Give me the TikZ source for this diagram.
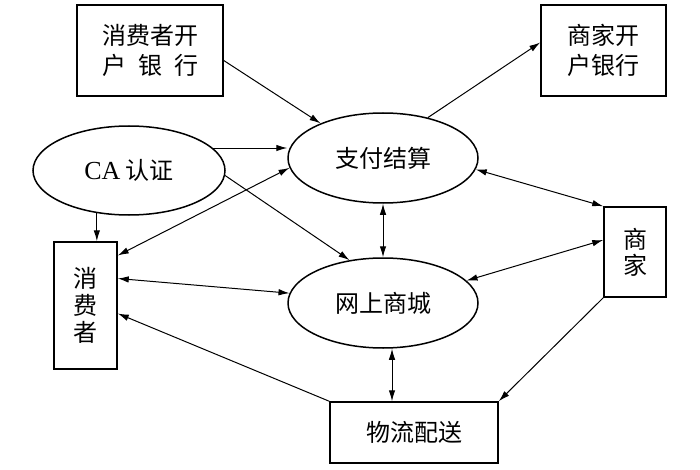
\documentclass[tikz,border=0pt]{standalone}
\usepackage{fontspec}
\setmainfont{Liberation Serif}
\newfontfamily\cjk{Noto Sans CJK SC}
\usetikzlibrary{shapes.geometric,arrows.meta}
\begin{document}
\begin{tikzpicture}[x=1pt,y=-1pt,
  box/.style={draw, line width=1.5pt, inner sep=0pt, align=center,
    font=\cjk\fontsize{24}{30}\selectfont},
  oval/.style={ellipse, draw, line width=1.5pt, inner sep=0pt, align=center,
    font=\cjk\fontsize{24}{30}\selectfont},
  link/.style={line width=1pt, -{Latex[length=11pt,width=6.5pt]}},
  both/.style={line width=1pt, {Latex[length=11pt,width=6.5pt]}-{Latex[length=11pt,width=6.5pt]}}]
\useasboundingbox[fill=white] (0,0) rectangle (700,470);
% nodes
\node[box, minimum width=146pt, minimum height=91pt] (b1) at (150,50.5)
  {消费者开\\户\hspace{0.5em}银\hspace{0.5em}行};
\node[box, minimum width=125pt, minimum height=91pt] (b2) at (603.5,50.5)
  {商家开\\户银行};
\node[oval, minimum width=192pt, minimum height=89pt] (ca) at (129,170.5)
  {{\rmfamily\fontsize{26}{30}\selectfont CA} 认证};
\node[oval, minimum width=190pt, minimum height=90pt] (zf) at (383,158)
  {支付结算};
\node[oval, minimum width=190pt, minimum height=90pt] (ws) at (383,303)
  {网上商城};
\node[box, minimum width=63pt, minimum height=127pt,
  font=\cjk\fontsize{24}{27}\selectfont] (xf) at (85.5,305.5)
  {消\\费\\者};
\node[box, minimum width=62pt, minimum height=90pt,
  font=\cjk\fontsize{24}{26}\selectfont] (sj) at (635,252)
  {商\\家};
\node[box, minimum width=168pt, minimum height=61pt] (wl) at (414,432.5)
  {物流配送};
% connectors
\draw[link] ([yshift=-10pt]b1.east) -- (zf.151);
\draw[link] (zf.42) -- ([yshift=8pt]b2.west);
\draw[link] (ca.15) -- (zf.west |- ca.15);
\draw[link] (ca.-3) -- (ws.128);
\draw[link] (ca.233) -- (ca.233 |- xf.north);
\draw[both] ([yshift=50pt]xf.east) -- (zf.186);
\draw[both] ([yshift=27pt]xf.east) -- (ws.174);
\draw[link] (wl.north west) -- ([yshift=-8pt]xf.east);
\draw[both] (zf.south) -- (ws.north);
\draw[both] (zf.-7) -- (sj.north west);
\draw[both] ([yshift=12pt]sj.west) -- (ws.15);
\draw[link] (sj.south west) -- (wl.north east);
\draw[both] ([xshift=9pt]ws.south) -- ([xshift=9pt]ws.south |- wl.north);
\end{tikzpicture}
\end{document}
